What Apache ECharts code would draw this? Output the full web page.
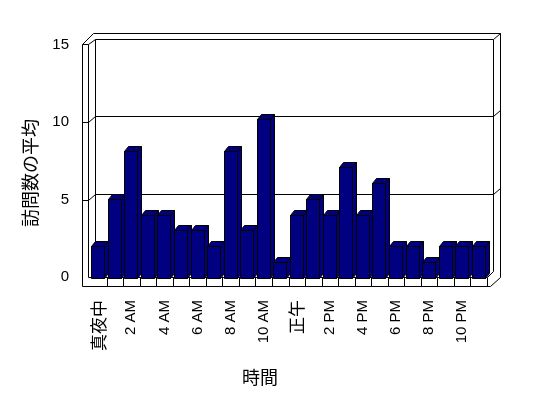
<!DOCTYPE html>
<html>
<head>
<meta charset="utf-8">
<script src="https://cdn.jsdelivr.net/npm/echarts@6/dist/echarts.min.js"></script>
<style>
    html, body { margin: 0; padding: 0; background: #fff; }
    #chart { width: 548px; height: 398px; }
</style>
</head>
<body>
<div id="chart"></div>
<script>
const hours = ['真夜中', '1 AM', '2 AM', '3 AM', '4 AM', '5 AM', '6 AM', '7 AM', '8 AM', '9 AM', '10 AM', '11 AM',
               '正午', '1 PM', '2 PM', '3 PM', '4 PM', '5 PM', '6 PM', '7 PM', '8 PM', '9 PM', '10 PM', '11 PM'];
const visits = [2, 5, 8, 4, 4, 3, 3, 2, 8, 3, 10, 1, 4, 5, 4, 7, 4, 6, 2, 2, 1, 2, 2, 2];
const gridValues = [5, 10];
const xTitle = '時間';
const yTitle = '訪問数の平均';

const font = "'Liberation Sans', 'Noto Sans CJK JP', sans-serif";
const GL = 90, GW = 397;
const p = (n) => Math.round(n) + 0.5;

const chart = echarts.init(document.getElementById('chart'));

const renderBar = (params, api) => {
    const i = api.value(0), v = api.value(1);
    const top = api.coord([i, v]);
    const base = api.coord([i, 0]);
    const x0 = p(top[0] - 7), x1 = x0 + 13;
    const yt = p(top[1]), yb = p(base[1]);
    const dx = 4, dy = -5;
    const style = { fill: '#000080', stroke: '#000', lineWidth: 1 };
    return {
        type: 'group',
        children: [
            { type: 'polygon', shape: { points: [[x1, yt], [x1 + dx, yt + dy], [x1 + dx, yb + dy], [x1, yb]] }, style },
            { type: 'polygon', shape: { points: [[x0, yt], [x1, yt], [x1 + dx, yt + dy], [x0 + dx, yt + dy]] }, style },
            { type: 'rect', shape: { x: x0, y: yt, width: 13, height: yb - yt }, style }
        ]
    };
};

chart.setOption({
    animation: false,
    grid: [
        { left: GL, width: GW, top: 40, bottom: 120 },   // bars
        { left: GL, width: GW, top: 45, bottom: 121 }    // walls / labels
    ],
    xAxis: [
        {
            type: 'category', data: hours, gridIndex: 0,
            axisLine: { show: false }, axisTick: { show: false },
            axisLabel: {
                interval: 1, rotate: 90, margin: 22, fontSize: 15, color: '#000', fontFamily: font,
                formatter: (val) => /[^\x00-\x7F]/.test(val) ? '{cjk|' + val + '}' : val,
                rich: { cjk: { fontSize: 17, fontFamily: "'Noto Sans CJK JP'", color: '#000' } }
            }
        },
        { type: 'category', data: hours, gridIndex: 1, show: false }
    ],
    yAxis: [
        { type: 'value', gridIndex: 0, min: 0, max: 15, interval: 5, show: false },
        {
            type: 'value', gridIndex: 1, min: 0, max: 15, interval: 5,
            axisLine: { show: false }, axisTick: { show: false }, splitLine: { show: false },
            axisLabel: { margin: 21, fontSize: 15, color: '#000', fontFamily: font }
        }
    ],
    series: [{
        type: 'custom',
        xAxisIndex: 0,
        yAxisIndex: 0,
        clip: false,
        data: visits.map((v, i) => [i, v]),
        renderItem: renderBar,
        z: 5
    }]
});

// 枠（壁・床）
const seg = (x1, y1, x2, y2) => ({
    type: 'line', silent: true, z: 0,
    shape: { x1: p(x1), y1: p(y1), x2: p(x2), y2: p(y2) },
    style: { stroke: '#000', lineWidth: 1 }
});

const frame = [
    seg(82, 44, 82, 286), seg(88, 44, 88, 277), seg(82, 44, 88, 44),
    seg(82, 44, 93, 33), seg(88, 44, 95, 39),
    seg(95, 39, 95, 271), seg(95, 39, 493, 39), seg(493, 39, 493, 271),
    seg(93, 33, 500, 33), seg(493, 39, 500, 33), seg(500, 33, 500, 277), seg(500, 277, 490, 286),
    seg(88, 277, 487, 277), seg(82, 286, 490, 286), seg(487, 277, 493, 271)
];
for (let i = 1; i <= hours.length; i++) {
    const x = GL + i * GW / hours.length;
    frame.push(seg(x, 277, x, 286));
}
gridValues.forEach((v) => {
    const y = chart.convertToPixel({ yAxisIndex: 1 }, v);
    frame.push(seg(82, y, 88, y), seg(88, y, 95, y - 6), seg(95, y - 6, 493, y - 6), seg(493, y - 6, 500, y - 12));
});

frame.push(
    { type: 'text', x: 260, y: 377, style: { text: xTitle, fontSize: 18, fontFamily: "'Noto Sans CJK JP'", fill: '#000', align: 'center', verticalAlign: 'middle' } },
    { type: 'text', x: 30, y: 173, rotation: Math.PI / 2, style: { text: yTitle, fontSize: 18, fontFamily: "'Noto Sans CJK JP'", fill: '#000', align: 'center', verticalAlign: 'middle' } }
);

chart.setOption({ graphic: frame });
</script>
</body>
</html>
